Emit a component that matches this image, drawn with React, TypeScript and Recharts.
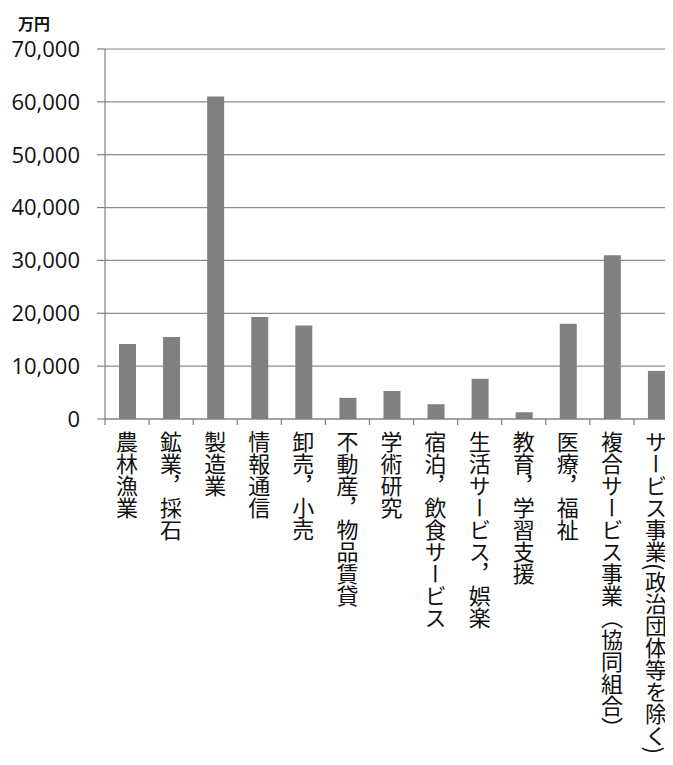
import React from 'react';
import { BarChart, Bar, XAxis, YAxis, CartesianGrid } from 'recharts';

const categories = [
  '農林漁業',
  '鉱業，採石',
  '製造業',
  '情報通信',
  '卸売，小売',
  '不動産，物品賃貸',
  '学術研究',
  '宿泊，飲食サービス',
  '生活サービス，娯楽',
  '教育，学習支援',
  '医療，福祉',
  '複合サービス事業（協同組合）',
  'サービス事業(政治団体等を除く)',
];
const values = [14200, 15500, 61000, 19300, 17700, 4000, 5300, 2800, 7600, 1300, 18000, 31000, 9100];
const yTicks = [0, 10000, 20000, 30000, 40000, 50000, 60000, 70000];
const unitLabel = '万円';

const data = categories.map((c, i) => ({ name: c, value: values[i] }));

const CHART_W = 680;
const CHART_H = 757;
const Y_W = 97;
const M_RIGHT = 10;
const HALF_BAND = (CHART_W - Y_W - M_RIGHT) / categories.length / 2;

const XTick = (props: any) => {
  const { x, y, payload } = props;
  const half = payload && payload.offset ? payload.offset : HALF_BAND;
  return (
    <g>
      <line x1={x - half} x2={x - half} y1={y} y2={y + 6} stroke="#808080" strokeWidth={1.2} />
      <text
        x={x}
        y={y + 12}
        fill="#111"
        fontSize={22}
        fontFamily="'Noto Sans CJK JP', sans-serif"
        textAnchor="start"
        style={{ writingMode: 'vertical-rl' as any }}
      >
        {payload.value}
      </text>
    </g>
  );
};

const fmt = (v: number) => v.toLocaleString('en-US');

export default function App() {
  return (
    <div style={{ width: 665, height: 757, overflow: 'hidden', background: '#fff' }}>
      <BarChart
        width={CHART_W}
        height={CHART_H}
        data={data}
        margin={{ top: 41, right: M_RIGHT, bottom: 0, left: 0 }}
        barSize={17}
      >
        <CartesianGrid horizontal={true} vertical={false} stroke="#8c8c8c" strokeWidth={1.2} />
        <XAxis
          dataKey="name"
          interval={0}
          height={346}
          tickSize={0}
          tickMargin={0}
          tickLine={false}
          axisLine={{ stroke: '#808080', strokeWidth: 1.2 }}
          tick={<XTick />}
        />
        <YAxis
          width={Y_W}
          domain={[0, 70000]}
          ticks={yTicks}
          interval={0}
          tickFormatter={fmt}
          tickSize={8}
          tickMargin={17}
          axisLine={{ stroke: '#808080', strokeWidth: 1.2 }}
          tickLine={{ stroke: '#808080', strokeWidth: 1.2 }}
          tick={{ fill: '#111', fontSize: 22, fontFamily: "'Open Sans', sans-serif" }}
        />
        <Bar dataKey="value" fill="#808080" isAnimationActive={false} />
        <text
          x={26}
          y={15}
          textAnchor="middle"
          dominantBaseline="central"
          fontSize={16}
          fontWeight="bold"
          fontFamily="'Noto Sans CJK JP', sans-serif"
          fill="#111"
        >
          {unitLabel}
        </text>
      </BarChart>
    </div>
  );
}
